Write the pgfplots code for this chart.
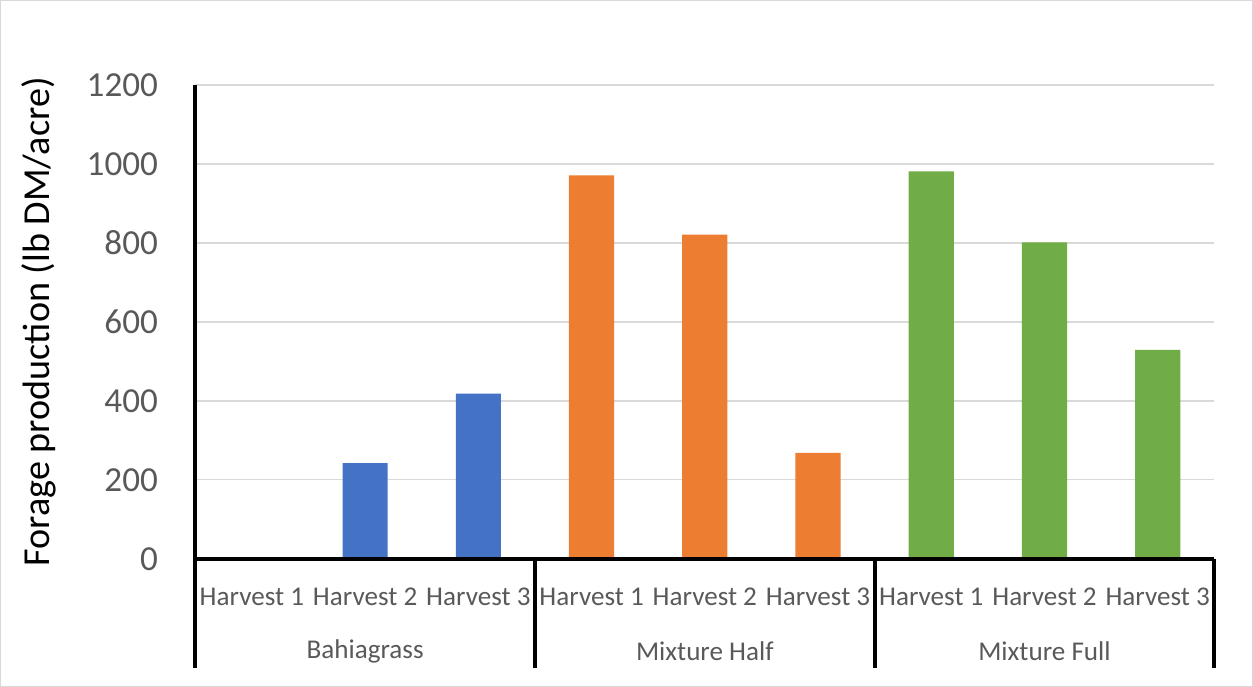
\documentclass[border=0pt]{standalone}
\usepackage{pgfplots}
\pgfplotsset{compat=1.18}
\usepackage{fontspec}
\setmainfont{Carlito}
\definecolor{cblue}{HTML}{4472C4}
\definecolor{corange}{HTML}{ED7D31}
\definecolor{cgreen}{HTML}{70AD47}
\definecolor{ticktxt}{HTML}{595959}
\definecolor{gridc}{HTML}{D9D9D9}
\begin{document}
\begin{tikzpicture}[x=1pt,y=1pt]
\draw[color=gridc, line width=1pt] (3,3) rectangle (1250,686);
\begin{axis}[
  at={(197pt,130pt)}, anchor=south west,
  scale only axis, width=1015pt, height=472pt,
  xmin=0, xmax=9, ymin=0, ymax=1200,
  ytick={0,200,...,1200},
  ymajorgrids, grid style={color=gridc, line width=1.5pt},
  axis x line*=bottom, axis y line*=left,
  axis line style={line width=4pt, black},
  major tick length=0pt,
  xtick={0.5,1.5,...,8.5},
  xticklabels={Harvest 1,Harvest 2,Harvest 3,Harvest 1,Harvest 2,Harvest 3,Harvest 1,Harvest 2,Harvest 3},
  xticklabel style={font=\fontsize{27}{30}\selectfont, color=ticktxt, anchor=center, yshift=-38pt},
  extra x ticks={1.5,4.5,7.5},
  extra x tick labels={Bahiagrass,Mixture Half,Mixture Full},
  extra x tick style={xticklabel style={yshift=-54pt}},
  yticklabel style={font=\fontsize{35}{40}\selectfont, color=ticktxt, anchor=east, inner sep=0pt, xshift=-37pt},
  /pgf/number format/assume math mode=true,
  /pgf/number format/1000 sep={},
  ylabel={Forage production (lb DM/acre)},
  ylabel style={font=\fontsize{38}{42}\selectfont, at={(rel axis cs:0,0.5)}, anchor=center, yshift=156pt},
  ybar, bar width=45pt, bar shift=0pt,
  clip=false,
]
\addplot[fill=cblue, draw=none] coordinates {(0.5,0) (1.5,242) (2.5,418)};
\addplot[fill=corange, draw=none] coordinates {(3.5,971) (4.5,821) (5.5,268)};
\addplot[fill=cgreen, draw=none] coordinates {(6.5,981) (7.5,801) (8.5,529)};
\draw[line width=4pt] (axis cs:0,0) -- (axis cs:9,0);
\pgfplotsinvokeforeach{0,3,6,9}{
  \draw[line width=4pt] (axis cs:#1,0) -- ++(0,-109pt);
}
\end{axis}
\end{tikzpicture}
\end{document}
